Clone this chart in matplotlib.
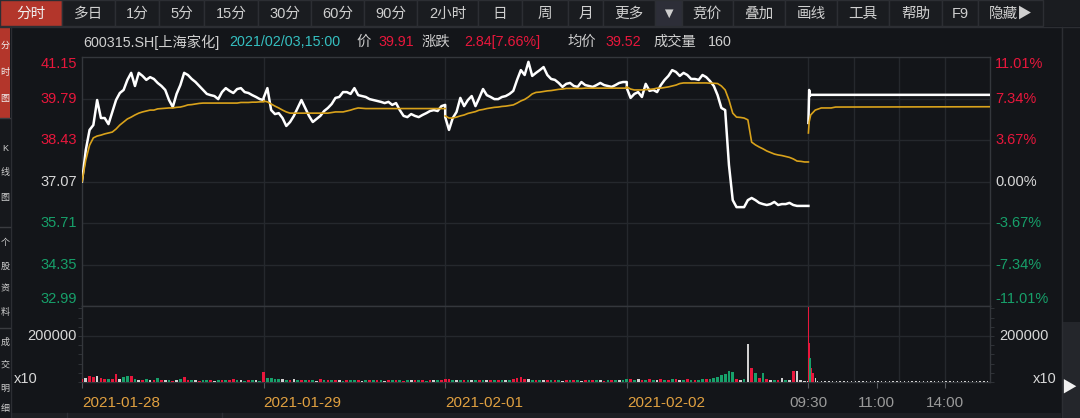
import numpy as np
import matplotlib
matplotlib.use('Agg')
import matplotlib.pyplot as plt
from matplotlib.patches import Rectangle
from matplotlib.lines import Line2D
from matplotlib.transforms import blended_transform_factory

plt.rcParams['font.family'] = ['Liberation Sans', 'Noto Sans CJK SC', 'DejaVu Sans']

# ---------------- data ----------------
pre_close = 37.07
price_ticks = [41.15, 39.79, 38.43, 37.07, 35.71, 34.35, 32.99]
pct_labels = ['11.01%', '7.34%', '3.67%', '0.00%', '-3.67%', '-7.34%', '-11.01%']
day_labels = ['2021-01-28', '2021-01-29', '2021-02-01', '2021-02-02']
time_labels = ['09:30', '11:00', '14:00']
time_label_minutes = [0, 90, 180]
vol_tick = 200000
vol_unit_label = 'x10'

# 5-minute samples (0..240) for the four previous days
price_d1 = [37.07, 38.10, 38.76, 38.92, 39.74, 39.15, 39.15, 38.95, 39.35, 39.74,
            39.97, 40.07, 40.40, 40.63, 40.20, 40.63, 40.53, 40.40, 40.49, 40.43,
            40.30, 40.20, 40.07, 39.74, 39.51, 39.94, 40.23, 40.63, 40.56, 40.43,
            40.33, 40.20, 40.07, 39.94, 39.90, 39.87, 39.77, 40.00, 40.13, 40.04,
            39.97, 40.10, 40.13, 40.00, 39.97, 39.90, 39.84, 39.77, 39.74]
avg_d1 = [37.07, 37.77, 38.26, 38.50, 38.56, 38.59, 38.63, 38.66, 38.69, 38.79,
          38.92, 39.02, 39.12, 39.18, 39.25, 39.31, 39.35, 39.38, 39.41, 39.41,
          39.45, 39.46, 39.47, 39.48, 39.48, 39.50, 39.51, 39.54, 39.58, 39.59,
          39.61, 39.63, 39.64, 39.64, 39.64, 39.64, 39.64, 39.64, 39.64, 39.64,
          39.64, 39.64, 39.66, 39.66, 39.66, 39.67, 39.67, 39.68, 39.68]
price_d2 = [39.81, 40.13, 39.41, 39.28, 39.31, 39.15, 38.89, 39.02, 39.22, 39.48,
            39.74, 39.48, 39.22, 39.02, 39.12, 39.22, 39.38, 39.48, 39.61, 39.81,
            39.84, 40.00, 40.00, 39.94, 40.13, 39.90, 39.87, 39.84, 39.77, 39.74,
            39.71, 39.68, 39.64, 39.68, 39.58, 39.64, 39.41, 39.22, 39.18, 39.28,
            39.22, 39.18, 39.25, 39.31, 39.38, 39.41, 39.38, 39.54, 39.58]
avg_d2 = [39.71, 39.68, 39.61, 39.54, 39.48, 39.41, 39.35, 39.31, 39.31, 39.31,
          39.31, 39.31, 39.31, 39.31, 39.31, 39.31, 39.31, 39.31, 39.33, 39.35,
          39.35, 39.35, 39.38, 39.41, 39.45, 39.48, 39.47, 39.46, 39.46, 39.46,
          39.46, 39.46, 39.46, 39.46, 39.46, 39.46, 39.46, 39.46, 39.46, 39.46,
          39.46, 39.46, 39.46, 39.46, 39.46, 39.46, 39.46, 39.46, 39.46]
price_d3 = [39.18, 38.76, 39.15, 39.35, 39.81, 39.54, 39.74, 39.87, 39.54, 39.81,
            40.10, 39.90, 39.84, 39.77, 39.77, 39.84, 39.87, 39.94, 40.04, 40.40,
            40.72, 40.56, 40.99, 40.53, 40.63, 40.72, 40.82, 40.56, 40.43, 40.40,
            40.30, 40.17, 40.27, 40.30, 40.20, 40.17, 40.33, 40.23, 40.20, 40.17,
            40.23, 40.30, 40.23, 40.20, 40.17, 40.23, 40.30, 40.33, 40.33]
avg_d3 = [39.22, 39.15, 39.15, 39.18, 39.22, 39.25, 39.30, 39.33, 39.36, 39.41,
          39.43, 39.46, 39.48, 39.50, 39.51, 39.53, 39.54, 39.56, 39.58, 39.64,
          39.71, 39.76, 39.84, 39.94, 39.99, 40.00, 40.02, 40.04, 40.05, 40.07,
          40.09, 40.10, 40.12, 40.12, 40.12, 40.12, 40.12, 40.13, 40.13, 40.13,
          40.13, 40.13, 40.13, 40.13, 40.13, 40.13, 40.13, 40.13, 40.13]
price_d4 = [40.13, 39.81, 39.94, 40.00, 39.84, 40.27, 40.04, 40.07, 40.00, 40.23,
            40.40, 40.53, 40.72, 40.66, 40.53, 40.63, 40.56, 40.43, 40.43, 40.40,
            40.56, 40.49, 40.36, 40.20, 39.90, 39.48, 39.41, 37.61, 36.46, 36.23,
            36.23, 36.23, 36.46, 36.53, 36.46, 36.37, 36.33, 36.30, 36.33, 36.40,
            36.30, 36.33, 36.33, 36.37, 36.30, 36.27, 36.27, 36.27, 36.27]
avg_d4 = [40.17, 40.10, 40.07, 40.07, 40.07, 40.08, 40.09, 40.10, 40.13, 40.13,
          40.15, 40.17, 40.20, 40.23, 40.28, 40.30, 40.30, 40.30, 40.30, 40.30,
          40.30, 40.30, 40.29, 40.29, 40.28, 40.20, 40.07, 39.74, 39.31, 39.18,
          39.17, 39.15, 39.09, 38.36, 38.27, 38.20, 38.14, 38.07, 38.02, 37.97,
          37.94, 37.92, 37.89, 37.86, 37.81, 37.74, 37.73, 37.71, 37.71]

# today (2021-02-03), irregular minute samples
price_d5_minutes = [0, 1, 2, 3, 240]
price_d5 = [38.99, 40.07, 39.88, 39.91, 39.91]
avg_d5_minutes = [0, 1, 3, 9, 17, 30, 36, 240]
avg_d5 = [38.66, 39.02, 39.25, 39.41, 39.48, 39.48, 39.51, 39.52]

# volumes (5-minute samples) and bar colours (r = up, g = down, w = flat)
vol_d1 = [13000, 17400, 26100, 21700, 26100, 17400, 13000, 13000, 13000, 34800,
          13000, 21700, 26100, 26100, 13000, 8700, 8700, 13000, 8700, 8700,
          17400, 8700, 8700, 8700, 6500, 8700, 13000, 21700, 8700, 8700,
          8700, 6500, 8700, 8700, 8700, 6500, 8700, 8700, 8700, 8700,
          13000, 8700, 8700, 6500, 8700, 8700, 8700, 6500, 8700]
col_d1 = "rwrrwrrgrr" "wggrgwrgwr" "grwgrwgrrg" "wrggrwgrgr" "rgwgrgwgr"
vol_d2 = [43500, 17400, 17400, 13000, 13000, 13000, 8700, 8700, 13000, 8700,
          8700, 8700, 8700, 8700, 6500, 13000, 8700, 8700, 8700, 8700,
          8700, 6500, 8700, 8700, 8700, 8700, 6500, 8700, 8700, 8700,
          8700, 8700, 6500, 8700, 8700, 8700, 8700, 6500, 8700, 8700,
          8700, 8700, 8700, 6500, 8700, 8700, 8700, 8700, 8700]
col_d2 = "rggggwgrwg" "rgrgwrgrgr" "wgrggrwgrg" "rgwrgrgrgw" "rgrgrwgrg"
vol_d3 = [13000, 13000, 8700, 8700, 8700, 8700, 8700, 8700, 8700, 8700,
          8700, 8700, 8700, 8700, 8700, 8700, 8700, 8700, 13000, 17400,
          21700, 13000, 13000, 8700, 8700, 8700, 8700, 8700, 8700, 8700,
          8700, 6500, 8700, 8700, 8700, 8700, 6500, 8700, 8700, 8700,
          8700, 8700, 6500, 8700, 8700, 8700, 8700, 8700, 8700]
col_d3 = "rrgwgrgwgr" "gwrgrgwgrr" "rrwgrgwrgr" "gwrgrgwrgr" "gwrgrgwgr"
vol_d4 = [13000, 13000, 8700, 13000, 8700, 8700, 13000, 8700, 8700, 13000,
          8700, 8700, 13000, 13000, 8700, 8700, 13000, 8700, 8700, 8700,
          13000, 13000, 13000, 17400, 21700, 30400, 34800, 47800, 43500, 13000,
          8700, 13000, 165000, 60900, 39100, 17400, 39100, 13000, 8700, 8700,
          8700, 17400, 8700, 8700, 47800, 47800, 8700, 4300, 4300]
col_d4 = "grgwrgrgwr" "grgrwgrgrg" "grgggggggr" "wgwrgrgrwg" "rwgwrwwww"

vol_d5_minutes = [0, 1, 2, 4, 6, 9] + list(range(12, 241, 5))
vol_d5 = [326000, 170000, 104000, 60900, 39100, 17400,
          4300, 4300, 4300, 4300, 4300, 4300, 4300, 4300, 4300, 4300,
          4300, 4300, 4300, 4300, 4300, 4300, 4300, 4300, 4300, 4300,
          6500, 4300, 4300, 4300, 6500, 4300, 4300, 4300, 4300, 4300,
          4300, 4300, 4300, 6500, 4300, 4300, 4300, 4300, 4300, 4300,
          4300, 4300, 6500, 4300, 4300, 4300]
col_d5 = "rrgrrw" + "w" * 46

info_code = '600315.SH[上海家化]'
info_time = '2021/02/03,15:00'
info_price = '39.91'
info_change = '2.84[7.66%]'
info_avg = '39.52'
info_vol = '160'

tabs = ['分时', '多日', '1分', '5分', '15分', '30分', '60分', '90分', '2小时', '日',
        '周', '月', '更多', '▼', '竞价', '叠加', '画线', '工具', '帮助', 'F9', '隐藏▶']
side_tabs = [['分', '时', '图'], ['K', '线', '图'], ['个', '股', '资', '料'], ['成', '交', '明', '细']]

# ---------------- styling ----------------
BG = '#131519'
BAR_BG = '#1a1c20'
BORDER = '#2c2e33'
GRID = '#25282d'
SPINE = '#34373c'
RED = '#e8173c'
GREEN = '#17a06a'
WHITE = '#d8d8d8'
GOLD = '#d9a21b'
ORANGE = '#e0a040'
CYAN = '#35bfc0'
TXT = '#cfcfcf'
VCOL = {'r': RED, 'g': GREEN, 'w': '#d0d0d0'}

W, H = 1080, 418
fig = plt.figure(figsize=(W / 100, H / 100), dpi=100, facecolor=BG)


def px_rect(x, y, w, h, **kw):
    fig.patches.append(Rectangle((x / W, 1 - (y + h) / H), w / W, h / H,
                                 transform=fig.transFigure, **kw))


def px_line(x0, y0, x1, y1, **kw):
    fig.lines.append(Line2D([x0 / W, x1 / W], [1 - y0 / H, 1 - y1 / H],
                            transform=fig.transFigure, **kw))


def px_text(x, y, s, **kw):
    fig.text(x / W, 1 - y / H, s, **kw)


# toolbar
edges = [0, 62, 115, 159, 204, 258, 311, 364, 417, 478, 522, 568, 603, 655, 682,
         733, 785, 837, 889, 942, 978, 1043]
px_rect(0, 0, W, 26, facecolor=BAR_BG, edgecolor='none')
for i, t in enumerate(tabs):
    x0, x1 = edges[i], edges[i + 1]
    fc = '#b3362b' if i == 0 else ('#2d2e38' if t == '▼' else BAR_BG)
    px_rect(x0, 0, x1 - x0, 26, facecolor=fc, edgecolor=BORDER, lw=1)
    px_text((x0 + x1) / 2, 14, t, color='#f0f0f0' if i == 0 else TXT,
            fontsize=10.5, ha='center', va='center')
px_line(0, 26.5, W, 26.5, color=BORDER, lw=1)

# info line
info_y = 42
px_text(83, info_y, info_code, color=TXT, fontsize=10.3, va='center')
px_text(229, info_y, info_time, color=CYAN, fontsize=10.3, va='center')
px_text(356, info_y, '价', color=TXT, fontsize=10.3, va='center')
px_text(378, info_y, info_price, color=RED, fontsize=10.3, va='center')
px_text(422, info_y, '涨跌', color=TXT, fontsize=10.3, va='center')
px_text(464, info_y, info_change, color=RED, fontsize=10.3, va='center')
px_text(567, info_y, '均价', color=TXT, fontsize=10.3, va='center')
px_text(605, info_y, info_avg, color=RED, fontsize=10.3, va='center')
px_text(653, info_y, '成交量', color=TXT, fontsize=10.3, va='center')
px_text(708, info_y, info_vol, color=TXT, fontsize=10.3, va='center')

# left side tabs
px_rect(0, 27, 10, H - 27, facecolor='#16181c', edgecolor='none')
px_rect(0, 28, 10, 90, facecolor='#b3362b', edgecolor='none')
px_line(10.5, 27, 10.5, H, color=BORDER, lw=1)
for yy in [118, 227, 328]:
    px_line(0, yy, 10, yy, color='#3a3c40', lw=1)
side_pos = [[45, 72, 99], [148, 173, 198], [243, 266, 289, 312], [342, 365, 388, 409]]
for gi, (grp, ys) in enumerate(zip(side_tabs, side_pos)):
    for ch, yy in zip(grp, ys):
        px_text(5, yy, ch, color='#f0f0f0' if gi == 0 else TXT,
                fontsize=6.5, ha='center', va='center')

# right side strip
px_rect(1061, 27, W - 1061, H - 27, facecolor='#15171b', edgecolor='none')
px_line(1061.5, 27, 1061.5, H, color=BORDER, lw=1)
px_rect(1063, 322, W - 1063, H - 322, facecolor='#24262b', edgecolor='none')
px_text(1069, 388, '▶', color='#f0f0f0', fontsize=11, ha='center', va='center')

# bottom strip
px_rect(11, 413, 1050, 5, facecolor='#1d1f23', edgecolor='none')
for xx in [67, 222]:
    px_line(xx, 413, xx, H, color=BORDER, lw=1)

# ---------------- chart axes ----------------
L, R, PT, PB, VB = 82, 990, 57, 306, 382
ax_p = fig.add_axes([L / W, 1 - PB / H, (R - L) / W, (PB - PT) / H], facecolor=BG)
ax_v = fig.add_axes([L / W, 1 - VB / H, (R - L) / W, (VB - PB) / H], facecolor=BG)

DAY = 240
NDAYS = 5
minutes5 = np.arange(0, DAY + 1, 5)
vgrid = [DAY * d for d in range(1, NDAYS)] + [DAY * 4 + m for m in (60, 120, 180)]

for ax in (ax_p, ax_v):
    ax.set_xlim(0, DAY * NDAYS)
    for sp in ax.spines.values():
        sp.set_color(SPINE)
        sp.set_linewidth(1)
    for xv in vgrid:
        ax.axvline(xv, color=GRID, lw=1, zorder=0)

ax_p.set_ylim(price_ticks[-1], price_ticks[0])
for pv in price_ticks[1:-1]:
    ax_p.axhline(pv, color=GRID, lw=1, zorder=0)
ax_p.set_xticks([])
ax_p.set_yticks([])

# price lines (previous four days joined, average resets per day)
prev_prices = [price_d1, price_d2, price_d3, price_d4]
prev_avgs = [avg_d1, avg_d2, avg_d3, avg_d4]
xs_all = np.concatenate([d * DAY + minutes5 for d in range(4)])
ps_all = np.concatenate(prev_prices)
ax_p.plot(xs_all, ps_all, color='white', lw=1.8, zorder=3, solid_joinstyle='round')
for d, av in enumerate(prev_avgs):
    ax_p.plot(d * DAY + minutes5, av, color=GOLD, lw=1.2, zorder=4)
ax_p.plot(4 * DAY + np.array(price_d5_minutes), price_d5, color='white', lw=1.8, zorder=3)
ax_p.plot(4 * DAY + np.array(avg_d5_minutes), avg_d5, color=GOLD, lw=1.2, zorder=4)

# price labels
trL = blended_transform_factory(ax_p.transAxes, ax_p.transData)
dxl = -5 / (R - L)
dxr = 1 + 5 / (R - L)
for i, (pv, pl) in enumerate(zip(price_ticks, pct_labels)):
    c = RED if pv > pre_close else (WHITE if pv == pre_close else GREEN)
    va = 'top' if i == 0 else ('bottom' if i == len(price_ticks) - 1 else 'center')
    ax_p.text(dxl, pv, f'{pv:.2f}', transform=trL, color=c, fontsize=10.5,
              ha='right', va=va)
    ax_p.text(dxr, pv, pl, transform=trL, color=c, fontsize=10.5,
              ha='left', va=va)

# volume
ax_v.set_ylim(0, 330000)
ax_v.axhline(vol_tick, color=GRID, lw=1, zorder=0)
vols = [vol_d1, vol_d2, vol_d3, vol_d4]
cols = [col_d1, col_d2, col_d3, col_d4]
for d in range(4):
    ax_v.bar(d * DAY + minutes5, vols[d], width=3.6,
             color=[VCOL[c] for c in cols[d]], linewidth=0, zorder=3)
ax_v.bar(4 * DAY + np.array(vol_d5_minutes), vol_d5, width=1.8,
         color=[VCOL[c] for c in col_d5], linewidth=0, zorder=3)

ax_v.set_yticks([])
ax_v.set_yticks(np.arange(0, 330001, 40000), minor=True)
ax_v.tick_params(axis='y', which='minor', length=3, color=SPINE, left=True, right=True,
                 labelleft=False, labelright=False)
tick_x = [d * DAY for d in range(NDAYS)] + [4 * DAY + m for m in time_label_minutes[1:]]
ax_v.set_xticks(tick_x)
ax_v.tick_params(axis='x', length=4, color='#55585d', labelbottom=False)

trV = blended_transform_factory(ax_v.transAxes, ax_v.transData)
ax_v.text(dxl, vol_tick, f'{vol_tick}', transform=trV, color=WHITE, fontsize=10.5,
          ha='right', va='center')
ax_v.text(1 + 9 / (R - L), vol_tick, f'{vol_tick}', transform=trV, color=WHITE,
          fontsize=10.5, ha='left', va='center')
ax_v.text(-44 / (R - L), 3 / (VB - PB), vol_unit_label, transform=ax_v.transAxes,
          color=WHITE, fontsize=10.5, ha='right', va='center')
ax_v.text(1 + 43 / (R - L), 3 / (VB - PB), vol_unit_label, transform=ax_v.transAxes,
          color=WHITE, fontsize=10.5, ha='left', va='center')

# date & time labels
trX = blended_transform_factory(ax_v.transData, fig.transFigure)
for d, lab in enumerate(day_labels):
    ax_v.text(d * DAY, 1 - 403 / H, lab, transform=trX, color=ORANGE, fontsize=11,
              ha='left', va='center', clip_on=False)
for m, lab in zip(time_label_minutes, time_labels):
    ax_v.text(4 * DAY + m, 1 - 403 / H, lab, transform=trX, color='#9a9a9a',
              fontsize=11, ha='center', va='center', clip_on=False)

fig.savefig('out.png', dpi=100, facecolor=BG)
